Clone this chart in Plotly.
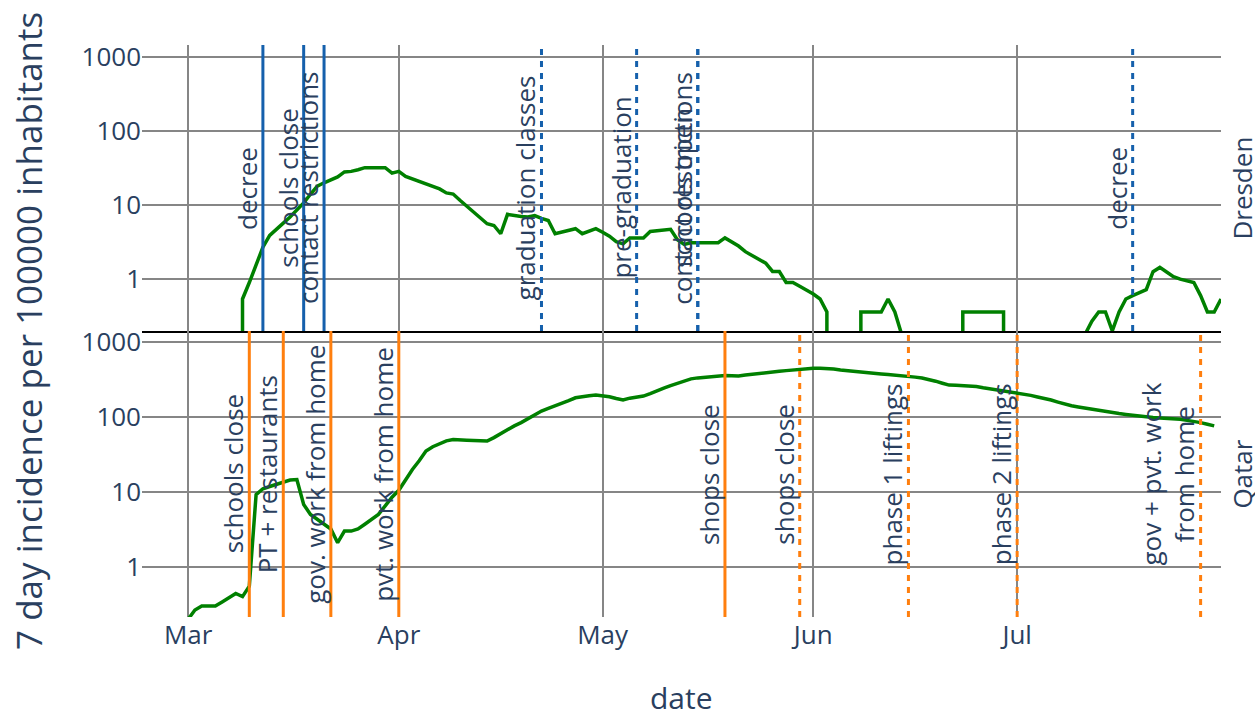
import pandas as pd
import plotly.graph_objects as go
from plotly.subplots import make_subplots

# ---------------- data ----------------
dresden_start = "2020-03-08"
dresden_values = [
    0, 0.54, 0.9, 1.55, 2.7, 3.9, 4.8, 5.7, 6.9, 8.6,          # Mar 8 - Mar 17
    10.7, 14, 18, 20, 22, 24, 28, 28.5, 30, 32,                # Mar 18 - Mar 27
    32, 32, 32, 27, 28.5, 24.4, 22.5, 20.9, 19.5, 18,          # Mar 28 - Apr 6
    16.5, 14.6, 14.1, 11.6, 9.6, 8, 6.7, 5.6, 5.3, 4.1,        # Apr 7 - Apr 16
    7.5, 7.2, 7.0, 6.9, 7.2, 6.6, 6.2, 4.1, 4.3, 4.6,          # Apr 17 - Apr 26
    4.8, 4.1, 4.5, 4.8, 4.3, 3.8, 3.2, 3.0, 3.6, 3.6,          # Apr 27 - May 6
    3.6, 4.4, 4.5, 4.6, 4.7, 3.4, 2.95, 3.1, 3.1, 3.1,         # May 7 - May 16
    3.1, 3.1, 3.6, 3.2, 2.8, 2.35, 2.1, 1.85, 1.64, 1.27,      # May 17 - May 26
    1.27, 0.9, 0.9, 0.8, 0.72, 0.63, 0.54, 0.36, 0, 0,         # May 27 - Jun 5
    0, 0, 0.36, 0.36, 0.36, 0.36, 0.54, 0.36, 0.18, 0,         # Jun 6 - Jun 15
    0, 0, 0, 0, 0, 0, 0, 0.36, 0.36, 0.36,                     # Jun 16 - Jun 25
    0.36, 0.36, 0.36, 0.36, 0, 0, 0, 0, 0, 0,                  # Jun 26 - Jul 5
    0, 0, 0, 0, 0, 0.18, 0.27, 0.36, 0.36, 0.2,                # Jul 6 - Jul 15
    0.36, 0.54, 0.6, 0.65, 0.72, 1.26, 1.44, 1.25, 1.08, 1.0,  # Jul 16 - Jul 25
    0.95, 0.9, 0.6, 0.36, 0.36, 0.54,                          # Jul 26 - Jul 31
]

qatar_start = "2020-03-01"
qatar_values = [
    0.2, 0.265, 0.30, 0.30, 0.30, 0.34, 0.39, 0.44, 0.40, 0.55,   # Mar 1 - Mar 10
    9.2, 11, 11.8, 12.5, 13.5, 14.4, 14.6, 6.8, 5.0, 4.3,         # Mar 11 - Mar 20
    3.7, 3.2, 2.1, 3.0, 3.0, 3.2, 3.7, 4.3, 5.0, 6.5,             # Mar 21 - Mar 30
    8.5, 10.5, 14.5, 19.9, 26, 35, 40, 44, 48, 50,                # Mar 31 - Apr 9
    50, 49, 48.5, 48, 47.6, 53, 60, 68, 76, 84,                   # Apr 10 - Apr 19
    95, 108, 120, 130, 140, 152, 165, 180, 187, 192,              # Apr 20 - Apr 29
    196, 193, 186, 176, 168, 178, 183, 190, 205, 225,             # Apr 30 - May 9
    243, 262, 283, 305, 322, 332, 340, 350, 355, 358,             # May 10 - May 19
    355, 352, 362, 372, 382, 390, 398, 407, 415, 424,             # May 20 - May 29
    432, 440, 448, 447, 445, 435, 422, 412, 403, 396,             # May 30 - Jun 8
    389, 382, 375, 368, 362, 356, 352, 340, 330, 318,             # Jun 9 - Jun 18
    300, 282, 266, 264, 263, 262, 255, 245, 237, 230,             # Jun 19 - Jun 28
    223, 216, 211, 202, 194, 185, 178, 168, 158, 148,             # Jun 29 - Jul 8
    141, 136, 131, 127, 123, 119, 115, 111, 108, 105,             # Jul 9 - Jul 18
    101, 99, 98, 97, 96, 95, 93, 90, 88, 84,                      # Jul 19 - Jul 28
    80, 76,                                                       # Jul 29 - Jul 30
]

dresden_event_dates = ["2020-03-12", "2020-03-18", "2020-03-21", "2020-04-22",
                       "2020-05-06", "2020-05-15", "2020-05-15", "2020-07-18"]
dresden_event_labels = ["decree", "schools close", "contact restrictions", "graduation classes",
                        "pre-graduation", "contact restrictions", "schools open", "decree"]
dresden_event_styles = ["solid", "solid", "solid", "dot", "dot", "dot", "dot", "dot"]

qatar_event_dates = ["2020-03-10", "2020-03-15", "2020-03-22", "2020-04-01",
                     "2020-05-19", "2020-05-30", "2020-06-15", "2020-07-01", "2020-07-28"]
qatar_event_labels = ["schools close", "PT + restaurants", "gov. work from home", "pvt. work from home",
                      "shops close", "shops close", "phase 1 liftings", "phase 2 liftings",
                      "gov + pvt. work<br>from home"]
qatar_event_styles = ["solid", "solid", "solid", "solid", "solid", "dot", "dot", "dot", "dot"]

y_tickvals = [1, 10, 100, 1000]
y_ticktext = ["1", "10", "100", "1000"]
region_names = ["Dresden", "Qatar"]

# ---------------- figure ----------------
TEXT = "#2a3f5f"
FONT = "Open Sans"
BLUE = "#1560ac"
ORANGE = "#ff7f0e"
GREEN = "green"
GRID = "#868686"
FS = 26

dresden_dates = pd.date_range(dresden_start, periods=len(dresden_values), freq="D")
qatar_dates = pd.date_range(qatar_start, periods=len(qatar_values), freq="D")

fig = make_subplots(rows=2, cols=1, shared_xaxes=True, vertical_spacing=0)

fig.add_trace(go.Scatter(x=dresden_dates, y=dresden_values, mode="lines",
                         line=dict(color=GREEN, width=3.5), showlegend=False), row=1, col=1)
fig.add_trace(go.Scatter(x=qatar_dates, y=qatar_values, mode="lines",
                         line=dict(color=GREEN, width=3.5), showlegend=False), row=2, col=1)


def add_events(dates, labels, styles, color, yref):
    for d, lab, st in zip(dates, labels, styles):
        fig.add_shape(type="line", xref="x", yref=f"{yref} domain",
                      x0=d, x1=d, y0=0, y1=1,
                      line=dict(color=color, width=3,
                                dash="solid" if st == "solid" else "6px,6px"),
                      layer="above")
        fig.add_annotation(x=d, xref="x", y=0.5, yref=f"{yref} domain",
                           text=lab, textangle=-90, showarrow=False,
                           xanchor="right", yanchor="middle", xshift=4,
                           font=dict(family=FONT, size=FS, color=TEXT))


add_events(dresden_event_dates, dresden_event_labels, dresden_event_styles, BLUE, "y")
add_events(qatar_event_dates, qatar_event_labels, qatar_event_styles, ORANGE, "y2")

for name, yc in zip(region_names, [0.749, 0.249]):
    fig.add_annotation(x=1.0195, xref="paper", y=yc, yref="paper", text=name,
                       textangle=-90, showarrow=False, xanchor="center", yanchor="middle",
                       font=dict(family=FONT, size=FS, color=TEXT))

fig.add_annotation(x=-0.1057, xref="paper", y=0.5, yref="paper",
                   text="7 day incidence per 100000 inhabitants", textangle=-90,
                   showarrow=False, xanchor="center", yanchor="middle",
                   font=dict(family=FONT, size=35, color=TEXT))
fig.add_annotation(x=0.5, xref="paper", y=-0.14, yref="paper", text="date",
                   showarrow=False, xanchor="center", yanchor="middle",
                   font=dict(family=FONT, size=30, color=TEXT))

xrange = ["2020-02-23 05:00", "2020-07-31"]
common_x = dict(range=xrange, type="date", dtick="M1", tickformat="%b",
                showgrid=True, gridcolor=GRID, gridwidth=2, ticks="",
                tickfont=dict(family=FONT, size=FS, color=TEXT), zeroline=False)
fig.update_xaxes(**common_x)
fig.update_xaxes(showline=True, linecolor="black", linewidth=2, showticklabels=False, row=1, col=1)
fig.update_xaxes(showline=False, row=2, col=1)

common_y = dict(type="log", tickvals=y_tickvals, ticktext=y_ticktext, showgrid=True,
                gridcolor=GRID, gridwidth=2, ticks="", zeroline=False,
                tickfont=dict(family=FONT, size=FS, color=TEXT))
fig.update_yaxes(**common_y)
fig.update_yaxes(range=[-0.70, 3.161], row=1, col=1)
fig.update_yaxes(range=[-0.67, 3.147], row=2, col=1)

fig.update_layout(
    width=1255, height=712,
    margin=dict(l=142, r=34, t=45, b=95, autoexpand=False),
    plot_bgcolor="white", paper_bgcolor="white",
    font=dict(family=FONT, size=FS, color=TEXT),
    showlegend=False,
)

fig.write_html("out.html", config={"displayModeBar": False},
               post_script="document.body.style.margin='0';document.body.style.overflow='hidden';")
